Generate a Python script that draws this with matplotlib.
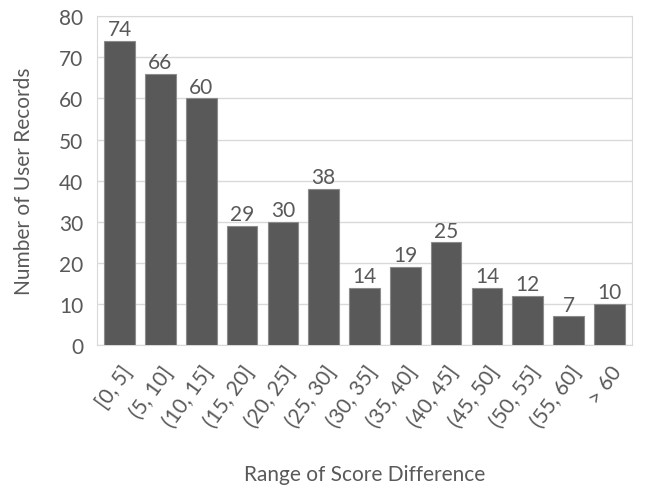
import matplotlib.pyplot as plt

# score difference bins and record counts
bins = ["[0, 5]", "(5, 10]", "(10, 15]", "(15, 20]", "(20, 25]", "(25, 30]",
        "(30, 35]", "(35, 40]", "(40, 45]", "(45, 50]", "(50, 55]", "(55, 60]", "> 60"]
counts = [74, 66, 60, 29, 30, 38, 14, 19, 25, 14, 12, 7, 10]

plt.rcParams['font.family'] = ['Lato', 'DejaVu Sans']
txt = '#595959'
fs = 15

fig = plt.figure(figsize=(6.52, 4.89), dpi=100)
ax = fig.add_axes([0.149, 0.292, 0.82, 0.673])

x = range(len(bins))
bars = ax.bar(x, counts, width=0.75, color='#595959', edgecolor='#8c8c8c', linewidth=0.8, zorder=3)
for xi, c in zip(x, counts):
    ax.text(xi, c + 0.4, str(c), ha='center', va='bottom', fontsize=fs, color=txt)

ax.set_xlim(-0.55, len(bins) - 0.45)
ax.set_ylim(0, 80)
ax.set_yticks(range(0, 81, 10))
ax.yaxis.grid(True, color='#d9d9d9', linewidth=1, zorder=0)
ax.set_xticks(list(x))
ax.set_xticklabels(bins, rotation=54, ha='right', rotation_mode='anchor')
ax.tick_params(axis='both', length=0, labelsize=fs, colors=txt)
ax.tick_params(axis='x', pad=12)
ax.tick_params(axis='y', pad=10)
for s in ax.spines.values():
    s.set_color('#d9d9d9')

ax.set_xlabel("Range of Score Difference", fontsize=fs, color=txt, labelpad=24)
ax.set_ylabel("Number of User Records", fontsize=fs, color=txt, labelpad=18)

fig.savefig("out.png", dpi=100)
